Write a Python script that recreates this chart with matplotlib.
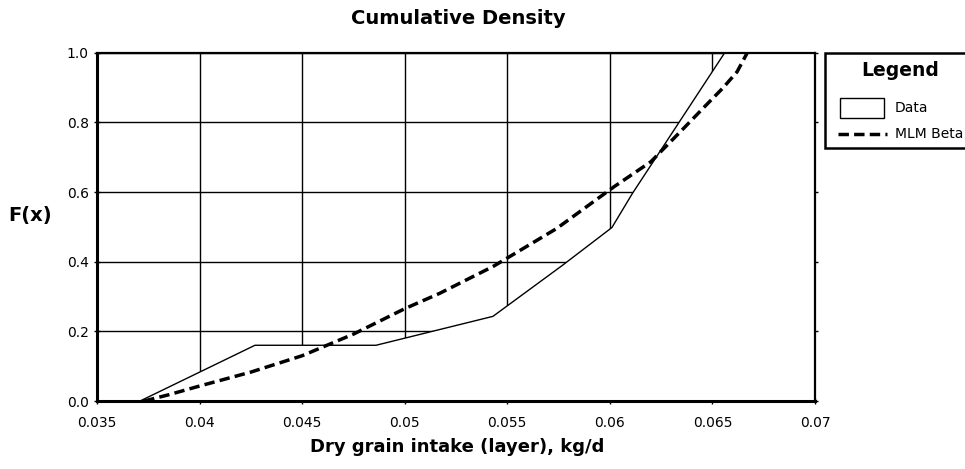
import numpy as np
import matplotlib.pyplot as plt
from matplotlib.patches import Rectangle
from matplotlib.lines import Line2D

plt.rcParams['font.family'] = ['DejaVu Sans']

data_x = [0.035, 0.0371, 0.0427, 0.0486, 0.0543, 0.0577, 0.0601, 0.0611, 0.0656]
data_F = [0.0, 0.0, 0.160, 0.160, 0.243, 0.390, 0.498, 0.596, 1.0]

# fitted MLM Beta CDF
beta_x = [0.0373, 0.0385, 0.040, 0.0425, 0.045, 0.0475, 0.050, 0.0517, 0.0543,
          0.0551, 0.0574, 0.0602, 0.0620, 0.0636, 0.0647, 0.0655, 0.0662, 0.0667]
beta_F = [0.0, 0.018, 0.043, 0.083, 0.130, 0.192, 0.265, 0.309, 0.386,
          0.414, 0.495, 0.615, 0.687, 0.783, 0.850, 0.898, 0.945, 1.0]

x_ticks = [0.035, 0.04, 0.045, 0.05, 0.055, 0.06, 0.065, 0.07]
x_labels = ['0.035', '0.04', '0.045', '0.05', '0.055', '0.06', '0.065', '0.07']
y_ticks = [0.0, 0.2, 0.4, 0.6, 0.8, 1.0]
y_labels = ['0.0', '0.2', '0.4', '0.6', '0.8', '1.0']

W, H = 965, 469
fig = plt.figure(figsize=(W / 100, H / 100), dpi=100)
ax = fig.add_axes([97 / W, 1 - 401 / H, 718 / W, 348.3 / H])

ax.set_xlim(0.035, 0.07)
ax.set_ylim(0, 1)
ax.set_xticks(x_ticks)
ax.set_xticklabels(x_labels)
ax.set_yticks(y_ticks)
ax.set_yticklabels(y_labels)
ax.tick_params(axis='both', labelsize=10, direction='inout', length=4, width=1,
               right=True, color='black')
ax.tick_params(axis='x', pad=9)
ax.tick_params(axis='y', pad=4)

ax.set_axisbelow(True)
ax.grid(True, color='black', lw=1)

# area under the data curve is white, it hides the grid
fx = np.append(data_x, 0.07)
fF = np.append(data_F, 1.0)
ax.fill_between(fx, fF, 0, facecolor='white', edgecolor='none', zorder=1)
ax.plot(data_x, data_F, color='black', lw=1, zorder=2)
ax.plot(beta_x, beta_F, color='black', lw=2.5, linestyle=(0, (3, 1.5)), zorder=3)

for s in ['left', 'bottom']:
    ax.spines[s].set_linewidth(2.2)
for s in ['top', 'right']:
    ax.spines[s].set_linewidth(1.6)
for s in ax.spines.values():
    s.set_zorder(4)

fig.text(458 / W, 1 - 19 / H, 'Cumulative Density', ha='center', va='center',
         fontsize=14, fontweight='bold')
fig.text(457 / W, 1 - 447 / H, 'Dry grain intake (layer), kg/d', ha='center',
         va='center', fontsize=13, fontweight='bold')
fig.text(30 / W, 1 - 215 / H, 'F(x)', ha='center', va='center',
         fontsize=14, fontweight='bold')

# legend box, cut by the right edge of the picture
fig.patches.append(Rectangle((825 / W, 1 - 148 / H), 200 / W, 95 / H,
                             transform=fig.transFigure, facecolor='white',
                             edgecolor='black', lw=1.8))
fig.text(900 / W, 1 - 71 / H, 'Legend', ha='center', va='center',
         fontsize=13.5, fontweight='bold')
fig.patches.append(Rectangle((840 / W, 1 - 118 / H), 44 / W, 20 / H,
                             transform=fig.transFigure, facecolor='white',
                             edgecolor='black', lw=1))
fig.text(895 / W, 1 - 108 / H, 'Data', ha='left', va='center', fontsize=10)
fig.lines.append(Line2D([838 / W, 887 / W], [1 - 134.5 / H, 1 - 134.5 / H],
                        transform=fig.transFigure, color='black', lw=2.5,
                        linestyle=(0, (3, 1.5))))
fig.text(895 / W, 1 - 134.5 / H, 'MLM Beta', ha='left', va='center', fontsize=10)

fig.savefig('out.png', dpi=100)
